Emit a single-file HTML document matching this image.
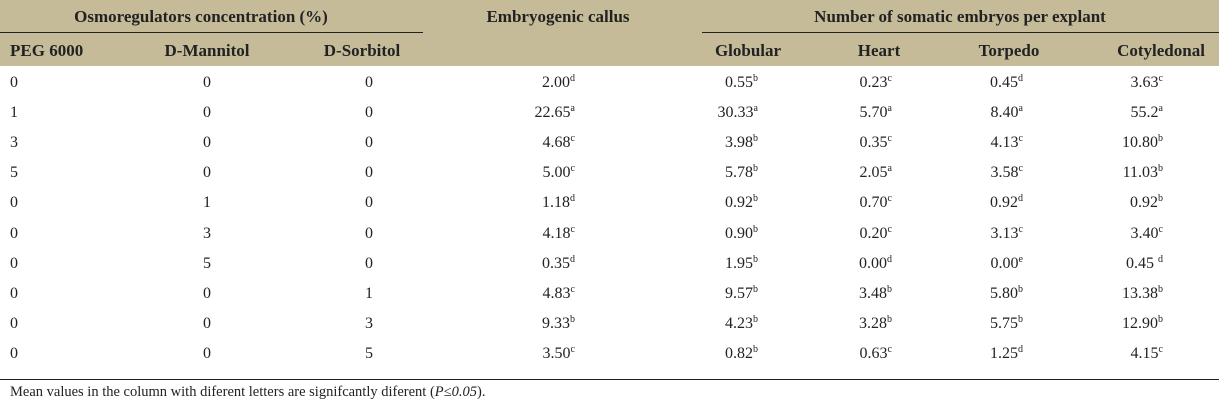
<!DOCTYPE html>
<html><head><meta charset="utf-8"><style>
html,body{margin:0;padding:0;background:#fff;}
body{width:1219px;height:404px;position:relative;overflow:hidden;font-family:"Liberation Serif",serif;color:#222;}
.hd{position:absolute;left:0;top:0;width:1219px;height:66px;background:#c5bb98;}
.t{position:absolute;white-space:nowrap;line-height:1;}
.h{font-weight:bold;font-size:17px;}
.d{font-size:16px;}
.c{transform:translateX(-50%);}
.r{transform:translateX(-100%);}
sup{font-size:10px;vertical-align:6px;line-height:0;}
.ln{position:absolute;height:1px;background:#222;}
</style></head><body>
<div class="hd"></div>
<div class="ln" style="left:0;top:32px;width:423px"></div>
<div class="ln" style="left:702px;top:32px;width:517px"></div>
<div class="ln" style="left:0;top:379px;width:1219px"></div>
<div class="t h c" style="left:201px;top:8px">Osmoregulators concentration (%)</div>
<div class="t h c" style="left:558px;top:8px">Embryogenic callus</div>
<div class="t h c" style="left:960px;top:8px">Number of somatic embryos per explant</div>
<div class="t h" style="left:10px;top:42px">PEG 6000</div>
<div class="t h c" style="left:207px;top:42px">D-Mannitol</div>
<div class="t h c" style="left:362px;top:42px">D-Sorbitol</div>
<div class="t h c" style="left:748px;top:42px">Globular</div>
<div class="t h c" style="left:879px;top:42px">Heart</div>
<div class="t h c" style="left:1009px;top:42px">Torpedo</div>
<div class="t h c" style="left:1161px;top:42px">Cotyledonal</div>
<div id="rows"></div>
<div class="t" style="left:10px;top:385px;font-size:14.5px">Mean values in the column with diferent letters are signifcantly diferent (<i>P≤0.05</i>).</div>
<script>
var R=[["0","0","0","2.00","d","0.55","b","0.23","c","0.45","d","3.63","c"],
["1","0","0","22.65","a","30.33","a","5.70","a","8.40","a","55.2","a"],
["3","0","0","4.68","c","3.98","b","0.35","c","4.13","c","10.80","b"],
["5","0","0","5.00","c","5.78","b","2.05","a","3.58","c","11.03","b"],
["0","1","0","1.18","d","0.92","b","0.70","c","0.92","d","0.92","b"],
["0","3","0","4.18","c","0.90","b","0.20","c","3.13","c","3.40","c"],
["0","5","0","0.35","d","1.95","b","0.00","d","0.00","e","0.45 ","d"],
["0","0","1","4.83","c","9.57","b","3.48","b","5.80","b","13.38","b"],
["0","0","3","9.33","b","4.23","b","3.28","b","5.75","b","12.90","b"],
["0","0","5","3.50","c","0.82","b","0.63","c","1.25","d","4.15","c"]];
var h="",xs=[575,758,892,1023,1163];
for(var i=0;i<R.length;i++){var y=74.5+i*30.2,r=R[i];
h+='<div class="t d" style="left:10px;top:'+y+'px">'+r[0]+'</div>';
h+='<div class="t d c" style="left:207px;top:'+y+'px">'+r[1]+'</div>';
h+='<div class="t d c" style="left:369px;top:'+y+'px">'+r[2]+'</div>';
for(var k=0;k<5;k++)h+='<div class="t d r" style="left:'+xs[k]+'px;top:'+y+'px">'+r[3+2*k]+'<sup>'+r[4+2*k]+'</sup></div>';}
document.getElementById('rows').innerHTML=h;
</script>
</body></html>
